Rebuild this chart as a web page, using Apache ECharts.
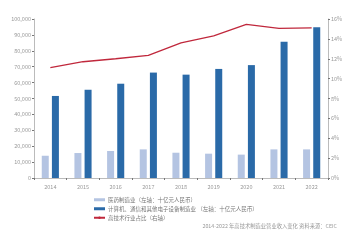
<!DOCTYPE html>
<html><head><meta charset="utf-8">
<script src="https://cdn.jsdelivr.net/npm/echarts@6/dist/echarts.min.js"></script>
<style>html,body{margin:0;padding:0;background:#fff}#c{width:348px;height:240px}</style>
</head><body><div id="c"></div>
<script>
const years = ['2014','2015','2016','2017','2018','2019','2020','2021','2022'];
const pharma = [14000, 15700, 17000, 18000, 15900, 15300, 14700, 18000, 18000];
const electronics = [51600, 55500, 59300, 66300, 65000, 68600, 71000, 85700, 94800];
const hiTechShare = [11.1, 11.7, 12.0, 12.35, 13.6, 14.3, 15.45, 15.05, 15.1];
const seriesNames = ['医药制造业（左轴：十亿元人民币）', '计算机、通信和其他电子设备制造业 （左轴：十亿元人民币）', '高技术行业占比（右轴）'];
const footnote = '2014-2022 年高技术制造业营业收入变化 资料来源：CEIC';

const font = '"Noto Sans CJK SC", "Noto Sans", sans-serif';
const axisGray = '#aaa';
const chart = echarts.init(document.getElementById('c'), null, {renderer: 'canvas'});
chart.setOption({
  animation: false,
  textStyle: {fontFamily: font},
  title: {
    text: footnote, right: 6, bottom: 6,
    textStyle: {fontSize: 5.3, fontWeight: 'normal', color: '#999', fontFamily: font}
  },
  legend: {
    orient: 'vertical', left: 88, top: 192,
    itemWidth: 11, itemHeight: 3, itemGap: 3.5,
    textStyle: {fontSize: 5.5, color: '#777', fontFamily: font, padding: [0,0,0,-2]},
    data: [{name: seriesNames[0], icon: 'rect'}, {name: seriesNames[1], icon: 'rect'}, {name: seriesNames[2]}]
  },
  grid: {left: 34, right: 20, top: 19, bottom: 62, containLabel: false},
  xAxis: {
    type: 'category', data: years, boundaryGap: true,
    axisLine: {lineStyle: {color: axisGray, width: 0.8}},
    axisTick: {show: true, length: 2, lineStyle: {color: '#777'}},
    axisLabel: {fontSize: 5.5, color: '#999', margin: 6}
  },
  yAxis: [{
    type: 'value', min: 0, max: 100000, interval: 10000,
    axisLine: {show: true, lineStyle: {color: axisGray, width: 0.8}},
    axisTick: {show: true, length: 2, lineStyle: {color: '#777'}},
    splitLine: {show: false},
    axisLabel: {fontSize: 5.5, color: '#999', margin: 3}
  }, {
    type: 'value', min: 0, max: 16, interval: 2, position: 'right',
    axisLine: {show: true, lineStyle: {color: axisGray, width: 0.8}},
    axisTick: {show: true, length: 2, lineStyle: {color: '#777'}},
    splitLine: {show: false},
    axisLabel: {fontSize: 5.5, color: '#999', margin: 3, formatter: '{value}%'}
  }],
  series: [{
    name: seriesNames[0], type: 'bar', data: pharma, barWidth: 7, barGap: '45%',
    itemStyle: {color: '#b4c4e2'}
  }, {
    name: seriesNames[1], type: 'bar', data: electronics, barWidth: 7, barGap: '45%',
    itemStyle: {color: '#2a6aa8'}
  }, {
    name: seriesNames[2], type: 'line', yAxisIndex: 1, data: hiTechShare,
    symbol: 'none', lineStyle: {color: '#c0283c', width: 1.3}, itemStyle: {color: '#c0283c'}
  }]
});
</script></body></html>
